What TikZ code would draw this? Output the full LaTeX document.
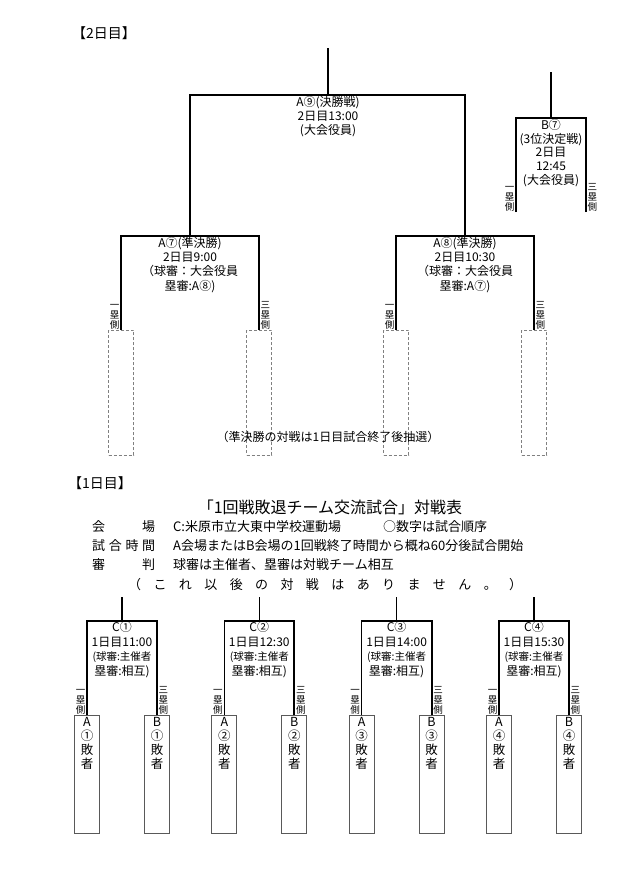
\documentclass[tikz,border=0pt]{standalone}
\usepackage{fontspec}
\setmainfont{Noto Sans CJK JP}
\usetikzlibrary{positioning}
\newcommand{\kgap}{\hspace{12.4pt}}

\begin{document}
\begin{tikzpicture}[x=1pt,y=-1pt]
  \tikzstyle{ln}=[line width=1.3pt]
  \tikzstyle{bold}=[line width=2.2pt]
  \tikzstyle{gamebox}=[inner sep=0pt,align=center,anchor=north,font=\fontsize{12}{14.3}\selectfont]
  \tikzstyle{side}=[inner sep=0pt,align=center,font=\fontsize{9.5}{10}\selectfont]
  \tikzstyle{slot}=[draw=gray,densely dashed,line width=0.6pt,minimum width=25pt,minimum height=125pt,anchor=north,inner sep=0pt]
  \tikzstyle{team}=[draw=gray!70!black,line width=0.8pt,minimum width=25pt,minimum height=118pt,anchor=north,inner sep=0pt]
  \tikzstyle{teamtext}=[inner sep=0pt,align=center,font=\fontsize{12.5}{14}\selectfont]
  \tikzstyle{info}=[inner sep=0pt,anchor=west,font=\fontsize{13}{15}\selectfont]
  \useasboundingbox (0,0) rectangle (639,873);

  % 2日目
  \node[info,font=\fontsize{14}{16}\selectfont] (day2) at (72,33) {【2日目】};
  \coordinate (fintop) at (328,48);
  \coordinate (finbar) at (328,95);
  \coordinate (semiAbar) at (190,236);
  \coordinate (semiBbar) at (465,236);
  \node[slot] (s1) at (121,330) {};
  \node[slot] (s2) at (259,330) {};
  \node[slot] (s3) at (396,330) {};
  \node[slot] (s4) at (534,330) {};
  \draw[bold] (fintop) -- (finbar);
  \draw[ln] (semiAbar) |- (finbar);
  \draw[bold] (semiBbar) |- (finbar);
  \draw[bold] (s1.north) |- (semiAbar);
  \draw[ln] (s2.north) |- (semiAbar);
  \draw[ln] (s3.north) |- (semiBbar);
  \draw[bold] (s4.north) |- (semiBbar);
  \node[gamebox] (final) at (328,96) {A⑨(決勝戦)\\2日目13:00\\(大会役員)};
  \node[gamebox] (semiA) at (190,237) {A⑦(準決勝)\\2日目9:00\\（球審：大会役員\\塁審:A⑧)};
  \node[gamebox] (semiB) at (465,237) {A⑧(準決勝)\\2日目10:30\\（球審：大会役員\\塁審:A⑦)};
  \node[side,above left=1pt and 1.5pt of s1.north] (s1side) {一\\塁\\側};
  \node[side,above right=1pt and 1.5pt of s2.north] (s2side) {三\\塁\\側};
  \node[side,above left=1pt and 1.5pt of s3.north] (s3side) {一\\塁\\側};
  \node[side,above right=1pt and 1.5pt of s4.north] (s4side) {三\\塁\\側};
  \node[inner sep=0pt,font=\fontsize{12}{14}\selectfont] (chusen) at (328,437) {（準決勝の対戦は1日目試合終了後抽選）};

  % 3位決定戦
  \coordinate (thirdtop) at (551,72);
  \coordinate (thirdbar) at (551,118);
  \coordinate (thirdL) at (516,212);
  \coordinate (thirdR) at (586,212);
  \draw[bold] (thirdtop) -- (thirdbar);
  \draw[ln] (thirdL) |- (thirdbar);
  \draw[bold] (thirdR) |- (thirdbar);
  \node[gamebox,font=\fontsize{12}{13.7}\selectfont] (third) at (551,119) {B⑦\\(3位決定戦)\\2日目\\12:45\\(大会役員)};
  \node[side,above left=1pt and 1.5pt of thirdL] (thirdLside) {一\\塁\\側};
  \node[side,above right=1pt and 1.5pt of thirdR] (thirdRside) {三\\塁\\側};

  % 1日目
  \node[info,font=\fontsize{14}{16}\selectfont] (day1) at (68,483) {【1日目】};
  \node[inner sep=0pt,font=\fontsize{16}{18}\selectfont] (title) at (330,507) {「1回戦敗退チーム交流試合」対戦表};
  \node[info] (key1) at (92,527) {\makebox[63pt][s]{会\hfil 場}};
  \node[info] (val1) at (173,527) {C:米原市立大東中学校運動場};
  \node[info] (val1b) at (383,527) {○数字は試合順序};
  \node[info] (key2) at (92,546) {\makebox[63pt][s]{試\hfil 合\hfil 時\hfil 間}};
  \node[info] (val2) at (173,546) {A会場またはB会場の1回戦終了時間から概ね60分後試合開始};
  \node[info] (key3) at (92,565) {\makebox[63pt][s]{審\hfil 判}};
  \node[info] (val3) at (173,565) {球審は主催者、塁審は対戦チーム相互};
  \node[info] (nomore) at (128,585) {（\kgap こ\kgap れ\kgap 以\kgap 後\kgap の\kgap 対\kgap 戦\kgap は\kgap あ\kgap り\kgap ま\kgap せ\kgap ん\kgap 。\kgap ）};

  \foreach \i/\cx/\tm/\cn in {1/122/11:00/①,2/259.3/12:30/②,3/396.6/14:00/③,4/534/15:30/④}{
    \coordinate (c\i top) at (\cx,597);
    \coordinate (c\i bar) at (\cx,621);
    \node[team] (a\i) at ({\cx-35},715) {};
    \node[team] (b\i) at ({\cx+35},715) {};
    \draw[ln] (c\i top) -- (c\i bar);
    \draw[ln] (a\i.north) |- (c\i bar);
    \draw[bold] (b\i.north) |- (c\i bar);
    \node[gamebox,font=\fontsize{12}{14.5}\selectfont] (c\i) at (\cx,621.5) {C\cn\\1日目\tm\\\fontsize{10.5}{13.5}\selectfont(球審:主催者\\塁審:相互)};
    \node[teamtext,below=2pt of a\i.north] (a\i text) {A\\\cn\\敗\\者};
    \node[teamtext,below=2pt of b\i.north] (b\i text) {B\\\cn\\敗\\者};
    \node[side,above left=1pt and 1.5pt of a\i.north] (a\i side) {一\\塁\\側};
    \node[side,above right=1pt and 1.5pt of b\i.north] (b\i side) {三\\塁\\側};
  }
\end{tikzpicture}
\end{document}
